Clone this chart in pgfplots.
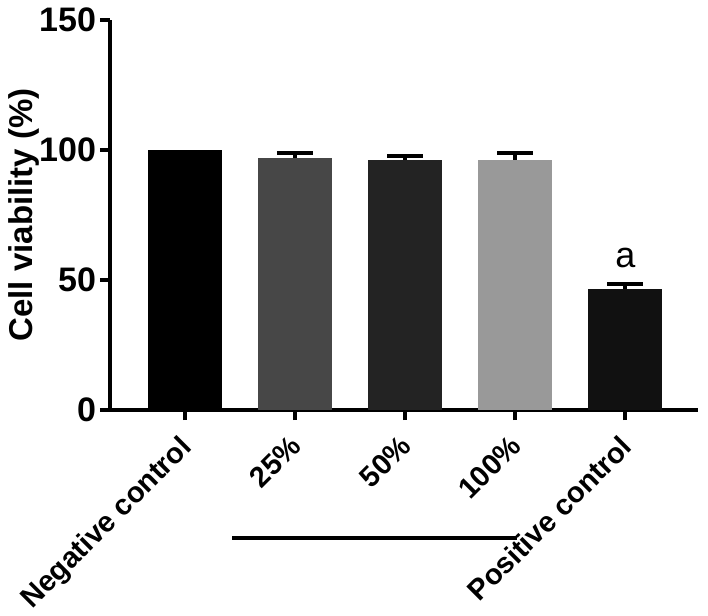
\documentclass[border=0pt]{standalone}
\usepackage{pgfplots}
\pgfplotsset{compat=1.18}
\usepackage{fontspec}
\setmainfont{Liberation Sans}
\definecolor{cneg}{HTML}{000000}
\definecolor{c25}{HTML}{474747}
\definecolor{c50}{HTML}{232323}
\definecolor{c100}{HTML}{999999}
\definecolor{cpos}{HTML}{111111}
\begin{document}
\begin{tikzpicture}
\begin{axis}[
  at={(0,0)}, anchor=south west,
  scale only axis,
  width=294pt, height=195pt,
  xmin=-0.68, xmax=4.66,
  ymin=0, ymax=150,
  ytick={0,50,100,150},
  xtick={0,1,2,3,4},
  xticklabels={Negative control,25\%,50\%,100\%,Positive control},
  axis lines=left,
  axis line style={-, line width=2pt},
  every tick/.style={line width=2pt, black},
  major tick length=5pt,
  tick align=outside,
  /pgf/number format/assume math mode=true,
  yticklabel style={font=\bfseries\fontsize{17}{17}\selectfont, xshift=1.5pt},
  xticklabel style={font=\bfseries\fontsize{14.5}{14.5}\selectfont, xshift=-3.3pt, yshift=-6.7pt, rotate=45, anchor=north east, inner sep=0pt},
  ylabel={Cell viability (\%)},
  ylabel style={font=\bfseries\fontsize{16.5}{16.5}\selectfont, yshift=-7pt},
  ybar, bar width=0.67, bar shift=0pt,
  clip=false,
  error bars/y dir=plus, error bars/y explicit,
  error bars/error bar style={line width=2pt, black},
  error bars/error mark options={rotate=90, mark size=9pt, line width=2pt, black},
]
\addplot[fill=cneg, draw=none] coordinates {(0,100)};
\addplot[fill=c25, draw=none] coordinates {(1,96.9) +- (0,1.8)};
\addplot[fill=c50, draw=none] coordinates {(2,96.2) +- (0,1.6)};
\addplot[fill=c100, draw=none] coordinates {(3,96.2) +- (0,2.5)};
\addplot[fill=cpos, draw=none] coordinates {(4,46.5) +- (0,1.8)};
\node[font=\fontsize{18}{18}\selectfont] at (axis cs:4,58.5) {a};
\draw[line width=2pt] (axis cs:0.43,-49.2) -- (axis cs:3.02,-49.2);
\end{axis}
\pgfresetboundingbox
\path[use as bounding box] (-55pt,-103pt) rectangle (299pt,205pt);
\end{tikzpicture}
\end{document}
